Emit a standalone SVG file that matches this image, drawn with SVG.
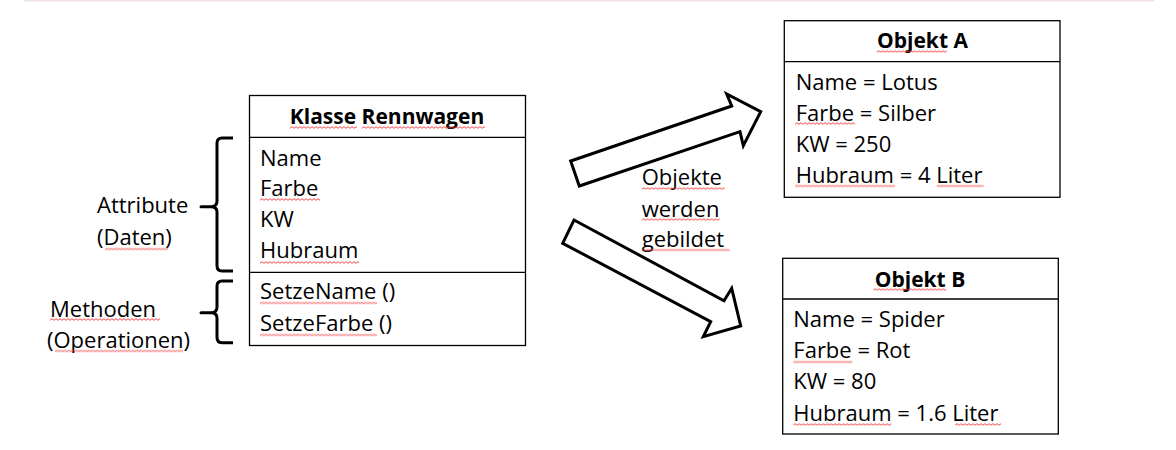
<svg xmlns="http://www.w3.org/2000/svg" width="1176" height="450" viewBox="0 0 1176 450">
<style>
.box{fill:#fff;stroke:#000;stroke-width:1.3}
.sep{stroke:#000;stroke-width:1.3}
.t{font-family:"Open Sans","Liberation Sans",sans-serif;font-size:22px;fill:#000}
.b{font-family:"Open Sans","Liberation Sans",sans-serif;font-size:21px;font-weight:bold;fill:#000;text-anchor:middle}
.arrow{fill:#fff;stroke:#000;stroke-width:3;stroke-linejoin:miter}
.brace{fill:none;stroke:#000;stroke-width:3;stroke-linejoin:round}
.sq{fill:url(#squig)}
</style>
<defs>
<pattern id="squig" patternUnits="userSpaceOnUse" x="0" y="0" width="4" height="3">
<path d="M0,2.3 L2,0.7 L4,2.3" fill="none" stroke="#e33" stroke-width="0.9"/>
</pattern>
<linearGradient id="topfade" x1="0" y1="0" x2="0" y2="1">
<stop offset="0" stop-color="#e8d2d8"/>
<stop offset="1" stop-color="#fff" stop-opacity="0"/>
</linearGradient>
</defs>
<rect x="24" y="0" width="1130" height="3" fill="url(#topfade)"/>

<g id="connectors">
<polygon class="arrow" points="570.7,161 731.7,106 726.7,94 760.7,111.7 743.3,145.7 740,131.7 579.3,186"/>
<polygon class="arrow" points="574,220 724,300.7 731.7,288.3 740.7,326 703.3,336.7 710.7,321.7 562.7,243.3"/>
</g>

<g id="label-objekte">
<text class="t" x="641.7" y="185">Objekte</text>
<text class="t" x="641.7" y="216.7">werden</text>
<text class="t" x="641.7" y="246.7">gebildet</text>
<rect class="sq" transform="translate(641.7,187)" width="83" height="3"/>
<rect class="sq" transform="translate(641.7,218)" width="78" height="3"/>
<rect class="sq" transform="translate(641.7,248.5)" width="88" height="3"/>
</g>

<g id="klasse">
<rect class="box" x="249.5" y="95.5" width="276" height="250"/>
<line class="sep" x1="249.5" y1="137.3" x2="525.5" y2="137.3"/>
<line class="sep" x1="249.5" y1="272.3" x2="525.5" y2="272.3"/>
<text class="b" x="387" y="124.3">Klasse Rennwagen</text>
<text class="t" x="260" y="165.7">Name</text>
<text class="t" x="260" y="196">Farbe</text>
<text class="t" x="260" y="227.3">KW</text>
<text class="t" x="260" y="258.3">Hubraum</text>
<text class="t" x="260" y="299.3">SetzeName ()</text>
<text class="t" x="260" y="330.7">SetzeFarbe ()</text>
<rect class="sq" transform="translate(290,126)" width="67" height="3"/>
<rect class="sq" transform="translate(362,126)" width="123" height="3"/>
<rect class="sq" transform="translate(260,198)" width="60" height="3"/>
<rect class="sq" transform="translate(260,261)" width="99" height="3"/>
<rect class="sq" transform="translate(260,301.5)" width="117" height="3"/>
<rect class="sq" transform="translate(260,333.5)" width="117" height="3"/>
</g>

<g id="attribute">
<path class="brace" d="M233,138 L222,138 Q217,138 217,143 L217,201 Q217,206.7 211,206.7 L201,206.7 L211,206.7 Q217,206.7 217,212 L217,265.5 Q217,271 222,271 L233,271"/>
<text class="t" x="97" y="212.7">Attribute</text>
<text class="t" x="97" y="245">(Daten)</text>
<rect class="sq" transform="translate(105,247.5)" width="63" height="3"/>
</g>

<g id="methoden">
<path class="brace" d="M233,281 L222,281 Q217,281 217,286 L217,307 Q217,312.7 211,312.7 L201,312.7 L211,312.7 Q217,312.7 217,318 L217,337.5 Q217,342.7 222,342.7 L233,342.7"/>
<text class="t" x="50" y="316.7">Methoden</text>
<text class="t" x="47" y="348.3">(Operationen)</text>
<rect class="sq" transform="translate(50,318)" width="110" height="3"/>
<rect class="sq" transform="translate(55,349.5)" width="128" height="3"/>
</g>

<g id="objekt-a">
<rect class="box" x="784.3" y="20.7" width="275.7" height="176.6"/>
<line class="sep" x1="784.3" y1="61.7" x2="1060" y2="61.7"/>
<text class="b" x="922.5" y="48.3">Objekt A</text>
<text class="t" x="795.7" y="90">Name = Lotus</text>
<text class="t" x="795.7" y="121">Farbe = Silber</text>
<text class="t" x="795.7" y="152.3">KW = 250</text>
<text class="t" x="795.7" y="183.3">Hubraum = 4 Liter</text>
<rect class="sq" transform="translate(876.7,50)" width="70" height="3"/>
<rect class="sq" transform="translate(795,122)" width="60" height="3"/>
<rect class="sq" transform="translate(795,184.5)" width="100" height="3"/>
<rect class="sq" transform="translate(936.7,184.5)" width="47" height="3"/>
</g>

<g id="objekt-b">
<rect class="box" x="782.7" y="258.3" width="275.6" height="175.7"/>
<line class="sep" x1="782.7" y1="299" x2="1058.3" y2="299"/>
<text class="b" x="920" y="286.7">Objekt B</text>
<text class="t" x="793.3" y="327.3">Name = Spider</text>
<text class="t" x="793.3" y="358.3">Farbe = Rot</text>
<text class="t" x="793.3" y="389.3">KW = 80</text>
<text class="t" x="793.3" y="420.7">Hubraum = 1.6 Liter</text>
<rect class="sq" transform="translate(873.3,288)" width="73" height="3"/>
<rect class="sq" transform="translate(793.3,360.5)" width="59" height="3"/>
<rect class="sq" transform="translate(793.3,423)" width="98" height="3"/>
<rect class="sq" transform="translate(955,423)" width="46" height="3"/>
</g>
</svg>
